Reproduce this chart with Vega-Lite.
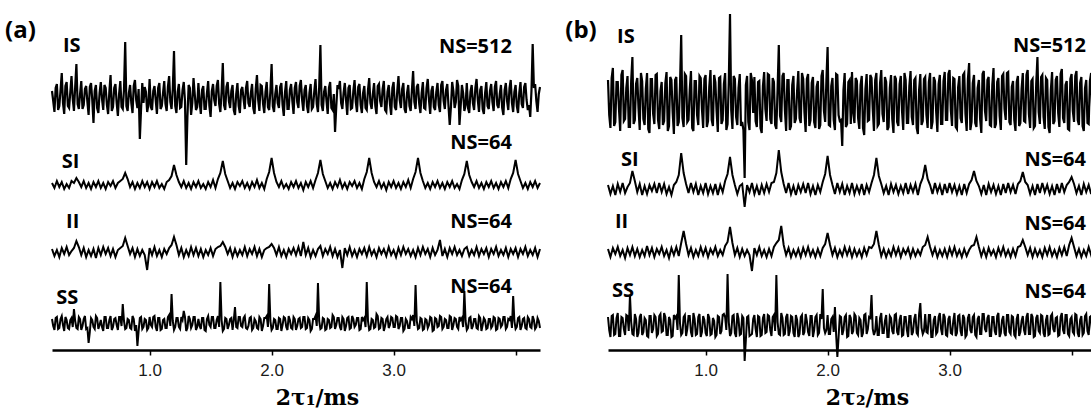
{
"$schema":"https://vega.github.io/schema/vega-lite/v6.json",
"padding":{"left":5,"top":0,"right":0,"bottom":0},
"background":"white",
"config":{"view":{"stroke":null},"axis":{"labelOverlap":false},"text":{"font":"Open Sans","fontWeight":"bold","fontSize":20,"color":"black","baseline":"middle"}},
"spacing":20,
"datasets":{
"tr":[
{"t":0.2,"a1":6,"a2":2,"a3":3,"a4":4,"b1":20,"b2":4,"b3":3,"b4":8},
{"t":0.22,"a1":-15,"a2":-3,"a3":-4,"a4":-7,"b1":-28,"b2":-5,"b3":-5,"b4":-12},
{"t":0.24,"a1":13,"a2":4,"a3":2,"a4":6,"b1":32,"b2":3,"b3":4,"b4":10},
{"t":0.26,"a1":-9,"a2":-2,"a3":-5,"a4":-5,"b1":-22,"b2":-6,"b3":-2,"b4":-9},
{"t":0.28,"a1":24,"a2":3,"a3":4,"a4":7,"b1":18,"b2":5,"b3":5,"b4":12},
{"t":0.3,"a1":-17,"a2":-4,"a3":-2,"a4":-8,"b1":-31,"b2":-3,"b3":-4,"b4":-11},
{"t":0.32,"a1":15,"a2":1,"a3":5,"a4":3,"b1":30,"b2":6,"b3":2,"b4":7},
{"t":0.34,"a1":-11,"a2":-3,"a3":-3,"a4":-6,"b1":-19,"b2":-4,"b3":-6,"b4":-10},
{"t":0.36,"a1":21,"a2":4,"a3":1,"a4":5,"b1":24,"b2":2,"b3":4,"b4":9},
{"t":0.38,"a1":-14,"a2":2,"a3":4,"a4":14,"b1":-27,"b2":6,"b3":-3,"b4":30},
{"t":0.4,"a1":33,"a2":7,"a3":11,"a4":-5,"b1":43,"b2":18,"b3":5,"b4":-9},
{"t":0.42,"a1":-12,"a2":3,"a3":5,"a4":6,"b1":-20,"b2":8,"b3":-4,"b4":11},
{"t":0.44,"a1":16,"a2":-2,"a3":-3,"a4":-7,"b1":22,"b2":-3,"b3":3,"b4":-12},
{"t":0.46,"a1":-8,"a2":4,"a3":4,"a4":4,"b1":-30,"b2":5,"b3":-5,"b4":8},
{"t":0.48,"a1":11,"a2":-3,"a3":-5,"a4":-6,"b1":19,"b2":-6,"b3":2,"b4":-10},
{"t":0.5,"a1":-18,"a2":2,"a3":2,"a4":-20,"b1":-25,"b2":3,"b3":-4,"b4":7},
{"t":0.52,"a1":14,"a2":-4,"a3":-4,"a4":5,"b1":27,"b2":-5,"b3":6,"b4":-11},
{"t":0.54,"a1":-26,"a2":3,"a3":3,"a4":-4,"b1":-33,"b2":4,"b3":-3,"b4":9},
{"t":0.56,"a1":12,"a2":-2,"a3":-6,"a4":7,"b1":21,"b2":-2,"b3":4,"b4":-8},
{"t":0.58,"a1":-16,"a2":4,"a3":4,"a4":-6,"b1":-24,"b2":5,"b3":-5,"b4":10},
{"t":0.6,"a1":15,"a2":-3,"a3":-3,"a4":3,"b1":26,"b2":-4,"b3":3,"b4":-11},
{"t":0.62,"a1":-13,"a2":2,"a3":5,"a4":-8,"b1":-29,"b2":6,"b3":-2,"b4":9},
{"t":0.64,"a1":9,"a2":-4,"a3":-2,"a4":6,"b1":18,"b2":-3,"b3":5,"b4":-7},
{"t":0.66,"a1":-17,"a2":3,"a3":4,"a4":-5,"b1":-21,"b2":5,"b3":-4,"b4":12},
{"t":0.68,"a1":22,"a2":-1,"a3":-4,"a4":7,"b1":28,"b2":-5,"b3":2,"b4":-10},
{"t":0.7,"a1":-10,"a2":4,"a3":3,"a4":-4,"b1":-26,"b2":2,"b3":-6,"b4":8},
{"t":0.72,"a1":13,"a2":-3,"a3":-5,"a4":5,"b1":20,"b2":-6,"b3":4,"b4":-12},
{"t":0.74,"a1":-19,"a2":2,"a3":2,"a4":-7,"b1":-34,"b2":4,"b3":-3,"b4":10},
{"t":0.76,"a1":16,"a2":4,"a3":4,"a4":6,"b1":23,"b2":7,"b3":5,"b4":9},
{"t":0.78,"a1":-12,"a2":6,"a3":6,"a4":19,"b1":-22,"b2":14,"b3":-4,"b4":50},
{"t":0.8,"a1":55,"a2":12,"a3":14,"a4":-6,"b1":65,"b2":36,"b3":9,"b4":-10},
{"t":0.82,"a1":-14,"a2":6,"a3":6,"a4":4,"b1":-27,"b2":16,"b3":21,"b4":8},
{"t":0.84,"a1":12,"a2":-2,"a3":-2,"a4":-5,"b1":24,"b2":5,"b3":8,"b4":-11},
{"t":0.86,"a1":-16,"a2":3,"a3":4,"a4":7,"b1":-20,"b2":-4,"b3":-3,"b4":9},
{"t":0.88,"a1":17,"a2":-4,"a3":-5,"a4":-8,"b1":29,"b2":6,"b3":4,"b4":-7},
{"t":0.9,"a1":-11,"a2":2,"a3":3,"a4":-23,"b1":-31,"b2":-3,"b3":-5,"b4":12},
{"t":0.92,"a1":-42,"a2":-3,"a3":-4,"a4":5,"b1":19,"b2":5,"b3":2,"b4":-10},
{"t":0.94,"a1":14,"a2":4,"a3":2,"a4":-6,"b1":-25,"b2":-6,"b3":-4,"b4":8},
{"t":0.96,"a1":10,"a2":-2,"a3":-3,"a4":4,"b1":22,"b2":3,"b3":5,"b4":-12},
{"t":0.98,"a1":-15,"a2":3,"a3":-18,"a4":-7,"b1":-28,"b2":-4,"b3":-3,"b4":9},
{"t":1,"a1":18,"a2":-4,"a3":4,"a4":6,"b1":25,"b2":6,"b3":4,"b4":-8},
{"t":1.02,"a1":-13,"a2":3,"a3":-3,"a4":-4,"b1":-21,"b2":-5,"b3":-5,"b4":11},
{"t":1.04,"a1":11,"a2":-2,"a3":5,"a4":7,"b1":30,"b2":3,"b3":3,"b4":-10},
{"t":1.06,"a1":-17,"a2":4,"a3":-4,"a4":-8,"b1":-26,"b2":-4,"b3":-2,"b4":7},
{"t":1.08,"a1":14,"a2":-3,"a3":2,"a4":5,"b1":18,"b2":5,"b3":5,"b4":-12},
{"t":1.1,"a1":-9,"a2":1,"a3":-5,"a4":-6,"b1":-32,"b2":-6,"b3":-4,"b4":9},
{"t":1.12,"a1":16,"a2":-4,"a3":3,"a4":4,"b1":23,"b2":4,"b3":2,"b4":-9},
{"t":1.14,"a1":-14,"a2":3,"a3":-2,"a4":-5,"b1":-20,"b2":-3,"b3":-3,"b4":10},
{"t":1.16,"a1":21,"a2":5,"a3":4,"a4":8,"b1":27,"b2":8,"b3":6,"b4":8},
{"t":1.18,"a1":-12,"a2":9,"a3":7,"a4":29,"b1":-24,"b2":15,"b3":10,"b4":51},
{"t":1.2,"a1":46,"a2":20,"a3":15,"a4":-7,"b1":86,"b2":32,"b3":25,"b4":-11},
{"t":1.22,"a1":-16,"a2":10,"a3":7,"a4":5,"b1":-29,"b2":14,"b3":9,"b4":9},
{"t":1.24,"a1":13,"a2":3,"a3":-3,"a4":-4,"b1":21,"b2":4,"b3":-3,"b4":-8},
{"t":1.26,"a1":-10,"a2":-2,"a3":4,"a4":6,"b1":-25,"b2":-5,"b3":4,"b4":12},
{"t":1.28,"a1":15,"a2":4,"a3":-5,"a4":12,"b1":26,"b2":3,"b3":-5,"b4":-10},
{"t":1.3,"a1":-68,"a2":-3,"a3":2,"a4":-8,"b1":-22,"b2":5,"b3":3,"b4":9},
{"t":1.32,"a1":12,"a2":2,"a3":-4,"a4":7,"b1":-78,"b2":-18,"b3":-4,"b4":-36},
{"t":1.34,"a1":-18,"a2":-4,"a3":5,"a4":-5,"b1":24,"b2":4,"b3":2,"b4":8},
{"t":1.36,"a1":19,"a2":3,"a3":-3,"a4":6,"b1":-30,"b2":-3,"b3":-3,"b4":-11},
{"t":1.38,"a1":-13,"a2":-2,"a3":4,"a4":-7,"b1":20,"b2":6,"b3":-19,"b4":-9},
{"t":1.4,"a1":14,"a2":4,"a3":-4,"a4":4,"b1":23,"b2":-5,"b3":4,"b4":10},
{"t":1.42,"a1":-17,"a2":-3,"a3":3,"a4":-6,"b1":-27,"b2":3,"b3":-3,"b4":-12},
{"t":1.44,"a1":11,"a2":1,"a3":-5,"a4":5,"b1":19,"b2":-6,"b3":5,"b4":8},
{"t":1.46,"a1":-12,"a2":-4,"a3":2,"a4":-8,"b1":-33,"b2":4,"b3":-4,"b4":-10},
{"t":1.48,"a1":16,"a2":3,"a3":-3,"a4":7,"b1":28,"b2":-4,"b3":2,"b4":11},
{"t":1.5,"a1":-20,"a2":-2,"a3":4,"a4":-4,"b1":-21,"b2":5,"b3":-5,"b4":-7},
{"t":1.52,"a1":13,"a2":5,"a3":-4,"a4":6,"b1":25,"b2":-3,"b3":3,"b4":9},
{"t":1.54,"a1":-9,"a2":-3,"a3":3,"a4":-5,"b1":-24,"b2":6,"b3":-4,"b4":-11},
{"t":1.56,"a1":17,"a2":6,"a3":5,"a4":7,"b1":18,"b2":7,"b3":5,"b4":10},
{"t":1.58,"a1":-15,"a2":12,"a3":6,"a4":41,"b1":-29,"b2":16,"b3":9,"b4":50},
{"t":1.6,"a1":34,"a2":24,"a3":10,"a4":-8,"b1":55,"b2":39,"b3":12,"b4":-9},
{"t":1.62,"a1":-13,"a2":11,"a3":5,"a4":5,"b1":-22,"b2":17,"b3":26,"b4":12},
{"t":1.64,"a1":15,"a2":4,"a3":-2,"a4":-6,"b1":27,"b2":5,"b3":7,"b4":-10},
{"t":1.66,"a1":-11,"a2":-3,"a3":4,"a4":4,"b1":-31,"b2":-4,"b3":-3,"b4":8},
{"t":1.68,"a1":12,"a2":2,"a3":-5,"a4":-7,"b1":20,"b2":6,"b3":4,"b4":-11},
{"t":1.7,"a1":-18,"a2":-4,"a3":3,"a4":16,"b1":-26,"b2":-5,"b3":-5,"b4":9},
{"t":1.72,"a1":14,"a2":3,"a3":-4,"a4":-5,"b1":24,"b2":3,"b3":2,"b4":-8},
{"t":1.74,"a1":-16,"a2":-1,"a3":2,"a4":6,"b1":-19,"b2":-6,"b3":-4,"b4":10},
{"t":1.76,"a1":10,"a2":4,"a3":-3,"a4":-4,"b1":29,"b2":4,"b3":3,"b4":-12},
{"t":1.78,"a1":-12,"a2":-3,"a3":5,"a4":7,"b1":-23,"b2":-3,"b3":-5,"b4":8},
{"t":1.8,"a1":16,"a2":2,"a3":-4,"a4":-6,"b1":21,"b2":5,"b3":4,"b4":-10},
{"t":1.82,"a1":-10,"a2":-4,"a3":3,"a4":5,"b1":-32,"b2":-4,"b3":-3,"b4":11},
{"t":1.84,"a1":13,"a2":3,"a3":-2,"a4":-7,"b1":26,"b2":6,"b3":5,"b4":-7},
{"t":1.86,"a1":-17,"a2":-2,"a3":5,"a4":4,"b1":-20,"b2":-5,"b3":-4,"b4":9},
{"t":1.88,"a1":22,"a2":5,"a3":-4,"a4":-5,"b1":23,"b2":3,"b3":2,"b4":-12},
{"t":1.9,"a1":-14,"a2":-3,"a3":3,"a4":6,"b1":-28,"b2":-6,"b3":-5,"b4":8},
{"t":1.92,"a1":11,"a2":2,"a3":-5,"a4":-8,"b1":19,"b2":4,"b3":3,"b4":-10},
{"t":1.94,"a1":-16,"a2":-4,"a3":2,"a4":5,"b1":-25,"b2":-3,"b3":-4,"b4":11},
{"t":1.96,"a1":15,"a2":6,"a3":4,"a4":7,"b1":30,"b2":7,"b3":4,"b4":36},
{"t":1.98,"a1":-13,"a2":13,"a3":5,"a4":39,"b1":-22,"b2":15,"b3":8,"b4":-8},
{"t":2,"a1":33,"a2":27,"a3":8,"a4":-7,"b1":53,"b2":33,"b3":19,"b4":10},
{"t":2.02,"a1":-15,"a2":12,"a3":4,"a4":4,"b1":-26,"b2":14,"b3":7,"b4":-9},
{"t":2.04,"a1":12,"a2":3,"a3":-3,"a4":-6,"b1":22,"b2":4,"b3":-3,"b4":8},
{"t":2.06,"a1":-11,"a2":-2,"a3":5,"a4":5,"b1":-30,"b2":-5,"b3":4,"b4":18},
{"t":2.08,"a1":14,"a2":4,"a3":-4,"a4":-8,"b1":25,"b2":6,"b3":-5,"b4":-32},
{"t":2.1,"a1":-19,"a2":-3,"a3":2,"a4":6,"b1":-21,"b2":-3,"b3":2,"b4":9},
{"t":2.12,"a1":16,"a2":1,"a3":-5,"a4":-4,"b1":-46,"b2":5,"b3":-4,"b4":-10},
{"t":2.14,"a1":-12,"a2":-4,"a3":3,"a4":7,"b1":27,"b2":-6,"b3":5,"b4":8},
{"t":2.16,"a1":13,"a2":3,"a3":-2,"a4":-5,"b1":-24,"b2":3,"b3":-3,"b4":-12},
{"t":2.18,"a1":-17,"a2":-2,"a3":4,"a4":6,"b1":20,"b2":-4,"b3":4,"b4":10},
{"t":2.2,"a1":15,"a2":4,"a3":-3,"a4":-7,"b1":28,"b2":6,"b3":-5,"b4":-9},
{"t":2.22,"a1":-11,"a2":-3,"a3":5,"a4":4,"b1":-23,"b2":-5,"b3":3,"b4":11},
{"t":2.24,"a1":17,"a2":2,"a3":-4,"a4":-5,"b1":19,"b2":3,"b3":-4,"b4":-8},
{"t":2.26,"a1":-14,"a2":-5,"a3":10,"a4":6,"b1":-29,"b2":-4,"b3":2,"b4":7},
{"t":2.28,"a1":12,"a2":3,"a3":-3,"a4":-6,"b1":24,"b2":5,"b3":-5,"b4":-12},
{"t":2.3,"a1":-16,"a2":-2,"a3":4,"a4":5,"b1":-35,"b2":-6,"b3":4,"b4":10},
{"t":2.32,"a1":13,"a2":4,"a3":-5,"a4":-8,"b1":26,"b2":4,"b3":-3,"b4":-9},
{"t":2.34,"a1":-10,"a2":-3,"a3":2,"a4":4,"b1":-20,"b2":-3,"b3":5,"b4":8},
{"t":2.36,"a1":18,"a2":5,"a3":-4,"a4":7,"b1":22,"b2":6,"b3":4,"b4":30},
{"t":2.38,"a1":-15,"a2":12,"a3":3,"a4":40,"b1":-31,"b2":14,"b3":8,"b4":-10},
{"t":2.4,"a1":52,"a2":25,"a3":6,"a4":-6,"b1":27,"b2":31,"b3":21,"b4":9},
{"t":2.42,"a1":-14,"a2":11,"a3":-4,"a4":5,"b1":-24,"b2":13,"b3":7,"b4":-10},
{"t":2.44,"a1":11,"a2":4,"a3":3,"a4":-7,"b1":30,"b2":5,"b3":-4,"b4":12},
{"t":2.46,"a1":-17,"a2":-3,"a3":-2,"a4":4,"b1":-22,"b2":-4,"b3":3,"b4":-8},
{"t":2.48,"a1":15,"a2":2,"a3":5,"a4":-5,"b1":18,"b2":3,"b3":-5,"b4":10},
{"t":2.5,"a1":-13,"a2":-4,"a3":-4,"a4":8,"b1":-27,"b2":-6,"b3":2,"b4":-12},
{"t":2.52,"a1":-35,"a2":3,"a3":3,"a4":-6,"b1":25,"b2":5,"b3":-4,"b4":7},
{"t":2.54,"a1":12,"a2":-2,"a3":-5,"a4":5,"b1":-33,"b2":-3,"b3":5,"b4":-9},
{"t":2.56,"a1":16,"a2":5,"a3":2,"a4":-4,"b1":21,"b2":4,"b3":-3,"b4":11},
{"t":2.58,"a1":-12,"a2":-3,"a3":-16,"a4":6,"b1":-26,"b2":-5,"b3":4,"b4":-10},
{"t":2.6,"a1":14,"a2":2,"a3":4,"a4":-8,"b1":24,"b2":3,"b3":-5,"b4":10},
{"t":2.62,"a1":-18,"a2":-4,"a3":-3,"a4":5,"b1":-30,"b2":-4,"b3":3,"b4":-10},
{"t":2.64,"a1":12,"a2":3,"a3":5,"a4":-6,"b1":20,"b2":6,"b3":-2,"b4":8},
{"t":2.66,"a1":-11,"a2":-1,"a3":-4,"a4":7,"b1":-23,"b2":-5,"b3":4,"b4":-12},
{"t":2.68,"a1":17,"a2":4,"a3":2,"a4":-4,"b1":29,"b2":4,"b3":-5,"b4":9},
{"t":2.7,"a1":-15,"a2":-3,"a3":-5,"a4":5,"b1":-25,"b2":-3,"b3":3,"b4":-7},
{"t":2.72,"a1":13,"a2":2,"a3":3,"a4":-7,"b1":22,"b2":5,"b3":-4,"b4":11},
{"t":2.74,"a1":-16,"a2":-4,"a3":-2,"a4":6,"b1":-34,"b2":-6,"b3":2,"b4":-10},
{"t":2.76,"a1":11,"a2":6,"a3":4,"a4":5,"b1":26,"b2":5,"b3":-3,"b4":22},
{"t":2.78,"a1":-13,"a2":13,"a3":-4,"a4":41,"b1":-21,"b2":11,"b3":5,"b4":-9},
{"t":2.8,"a1":19,"a2":27,"a3":5,"a4":-7,"b1":23,"b2":24,"b3":7,"b4":11},
{"t":2.82,"a1":-12,"a2":12,"a3":-3,"a4":4,"b1":-28,"b2":10,"b3":15,"b4":-8},
{"t":2.84,"a1":14,"a2":3,"a3":2,"a4":-5,"b1":27,"b2":4,"b3":5,"b4":10},
{"t":2.86,"a1":-17,"a2":-2,"a3":-5,"a4":9,"b1":-22,"b2":-5,"b3":-3,"b4":-12},
{"t":2.88,"a1":13,"a2":4,"a3":4,"a4":-6,"b1":19,"b2":6,"b3":4,"b4":9},
{"t":2.9,"a1":-10,"a2":-3,"a3":-2,"a4":5,"b1":-32,"b2":-3,"b3":-5,"b4":-7},
{"t":2.92,"a1":16,"a2":2,"a3":3,"a4":-8,"b1":25,"b2":4,"b3":2,"b4":12},
{"t":2.94,"a1":-15,"a2":-5,"a3":-4,"a4":4,"b1":-24,"b2":-6,"b3":-4,"b4":-10},
{"t":2.96,"a1":12,"a2":3,"a3":5,"a4":-5,"b1":28,"b2":5,"b3":3,"b4":8},
{"t":2.98,"a1":-18,"a2":-2,"a3":-3,"a4":6,"b1":-20,"b2":-4,"b3":-5,"b4":-11},
{"t":3,"a1":15,"a2":4,"a3":2,"a4":-4,"b1":30,"b2":6,"b3":4,"b4":9},
{"t":3.02,"a1":-13,"a2":-3,"a3":-5,"a4":7,"b1":-26,"b2":-3,"b3":-3,"b4":-9},
{"t":3.04,"a1":21,"a2":2,"a3":4,"a4":-6,"b1":21,"b2":4,"b3":5,"b4":12},
{"t":3.06,"a1":-11,"a2":-4,"a3":-3,"a4":5,"b1":-29,"b2":-5,"b3":-4,"b4":-8},
{"t":3.08,"a1":14,"a2":3,"a3":5,"a4":-8,"b1":24,"b2":3,"b3":2,"b4":10},
{"t":3.1,"a1":-16,"a2":-2,"a3":-2,"a4":4,"b1":-23,"b2":-6,"b3":-5,"b4":-11},
{"t":3.12,"a1":12,"a2":5,"a3":3,"a4":-5,"b1":27,"b2":5,"b3":3,"b4":7},
{"t":3.14,"a1":-14,"a2":-3,"a3":-4,"a4":6,"b1":-31,"b2":-4,"b3":-4,"b4":-10},
{"t":3.16,"a1":26,"a2":6,"a3":2,"a4":8,"b1":37,"b2":5,"b3":2,"b4":11},
{"t":3.18,"a1":-12,"a2":13,"a3":-5,"a4":38,"b1":-22,"b2":9,"b3":6,"b4":-8},
{"t":3.2,"a1":13,"a2":27,"a3":4,"a4":-6,"b1":25,"b2":18,"b3":7,"b4":10},
{"t":3.22,"a1":-16,"a2":12,"a3":-3,"a4":5,"b1":-27,"b2":8,"b3":15,"b4":-12},
{"t":3.24,"a1":15,"a2":4,"a3":5,"a4":-7,"b1":20,"b2":3,"b3":5,"b4":9},
{"t":3.26,"a1":-12,"a2":-3,"a3":-2,"a4":4,"b1":-33,"b2":-5,"b3":-4,"b4":-9},
{"t":3.28,"a1":18,"a2":2,"a3":3,"a4":-5,"b1":29,"b2":4,"b3":3,"b4":11},
{"t":3.3,"a1":-17,"a2":-4,"a3":-5,"a4":6,"b1":-21,"b2":-6,"b3":-5,"b4":-7},
{"t":3.32,"a1":11,"a2":3,"a3":4,"a4":-8,"b1":23,"b2":5,"b3":4,"b4":10},
{"t":3.34,"a1":-13,"a2":-2,"a3":-3,"a4":5,"b1":-26,"b2":-3,"b3":-3,"b4":-11},
{"t":3.36,"a1":14,"a2":4,"a3":2,"a4":-4,"b1":32,"b2":4,"b3":2,"b4":8},
{"t":3.38,"a1":-15,"a2":-3,"a3":12,"a4":7,"b1":-24,"b2":-5,"b3":-5,"b4":-10},
{"t":3.4,"a1":16,"a2":2,"a3":-4,"a4":-6,"b1":22,"b2":3,"b3":4,"b4":12},
{"t":3.42,"a1":-12,"a2":-4,"a3":3,"a4":4,"b1":-30,"b2":-6,"b3":-3,"b4":-8},
{"t":3.44,"a1":13,"a2":3,"a3":-5,"a4":-5,"b1":26,"b2":5,"b3":5,"b4":9},
{"t":3.46,"a1":-28,"a2":-2,"a3":4,"a4":7,"b1":-20,"b2":-4,"b3":-4,"b4":-11},
{"t":3.48,"a1":15,"a2":4,"a3":-2,"a4":-7,"b1":28,"b2":6,"b3":2,"b4":10},
{"t":3.5,"a1":-11,"a2":-3,"a3":5,"a4":5,"b1":-25,"b2":-3,"b3":-5,"b4":-9},
{"t":3.52,"a1":17,"a2":1,"a3":-3,"a4":-4,"b1":19,"b2":4,"b3":3,"b4":8},
{"t":3.54,"a1":-28,"a2":-4,"a3":2,"a4":6,"b1":-31,"b2":-5,"b3":-4,"b4":-12},
{"t":3.56,"a1":12,"a2":5,"a3":-4,"a4":5,"b1":24,"b2":5,"b3":5,"b4":11},
{"t":3.58,"a1":-14,"a2":11,"a3":3,"a4":32,"b1":-23,"b2":8,"b3":6,"b4":-7},
{"t":3.6,"a1":14,"a2":24,"a3":5,"a4":-7,"b1":27,"b2":17,"b3":12,"b4":9},
{"t":3.62,"a1":-16,"a2":10,"a3":-4,"a4":5,"b1":-22,"b2":7,"b3":5,"b4":-10},
{"t":3.64,"a1":12,"a2":3,"a3":2,"a4":-6,"b1":30,"b2":4,"b3":-3,"b4":12},
{"t":3.66,"a1":-13,"a2":-2,"a3":-3,"a4":4,"b1":-28,"b2":-5,"b3":4,"b4":-9},
{"t":3.68,"a1":18,"a2":4,"a3":5,"a4":-5,"b1":21,"b2":3,"b3":-5,"b4":8},
{"t":3.7,"a1":-15,"a2":-3,"a3":-4,"a4":7,"b1":-26,"b2":-6,"b3":3,"b4":-11},
{"t":3.72,"a1":11,"a2":2,"a3":3,"a4":-8,"b1":43,"b2":5,"b3":-4,"b4":10},
{"t":3.74,"a1":-17,"a2":-4,"a3":-2,"a4":5,"b1":-24,"b2":-4,"b3":2,"b4":-8},
{"t":3.76,"a1":15,"a2":3,"a3":4,"a4":-6,"b1":25,"b2":6,"b3":-5,"b4":9},
{"t":3.78,"a1":-12,"a2":-2,"a3":-5,"a4":4,"b1":-29,"b2":-3,"b3":4,"b4":-12},
{"t":3.8,"a1":13,"a2":4,"a3":3,"a4":-5,"b1":20,"b2":4,"b3":-3,"b4":10},
{"t":3.82,"a1":-14,"a2":-3,"a3":-2,"a4":6,"b1":-33,"b2":-5,"b3":5,"b4":-9},
{"t":3.84,"a1":16,"a2":2,"a3":5,"a4":-7,"b1":28,"b2":3,"b3":-4,"b4":11},
{"t":3.86,"a1":-11,"a2":-4,"a3":-4,"a4":5,"b1":-21,"b2":-6,"b3":2,"b4":-7},
{"t":3.88,"a1":12,"a2":3,"a3":2,"a4":-4,"b1":24,"b2":5,"b3":-5,"b4":8},
{"t":3.9,"a1":-18,"a2":-2,"a3":-3,"a4":6,"b1":-27,"b2":-4,"b3":4,"b4":-10},
{"t":3.92,"a1":14,"a2":4,"a3":4,"a4":-6,"b1":31,"b2":6,"b3":-3,"b4":12},
{"t":3.94,"a1":-13,"a2":-3,"a3":-5,"a4":4,"b1":-23,"b2":-3,"b3":5,"b4":-9},
{"t":3.96,"a1":17,"a2":6,"a3":3,"a4":7,"b1":19,"b2":4,"b3":-4,"b4":10},
{"t":3.98,"a1":-15,"a2":12,"a3":-2,"a4":27,"b1":-30,"b2":7,"b3":7,"b4":-11},
{"t":4,"a1":12,"a2":25,"a3":4,"a4":-6,"b1":26,"b2":12,"b3":14,"b4":8},
{"t":4.02,"a1":-16,"a2":11,"a3":-5,"a4":5,"b1":-22,"b2":5,"b3":5,"b4":-9},
{"t":4.04,"a1":15,"a2":4,"a3":3,"a4":-7,"b1":29,"b2":-4,"b3":-4,"b4":10},
{"t":4.06,"a1":-11,"a2":-3,"a3":-2,"a4":4,"b1":-25,"b2":3,"b3":3,"b4":-12},
{"t":4.08,"a1":14,"a2":2,"a3":5,"a4":-5,"b1":23,"b2":-6,"b3":-5,"b4":9},
{"t":4.1,"a1":-13,"a2":-4,"a3":-4,"a4":6,"b1":-31,"b2":5,"b3":2,"b4":-8},
{"t":4.12,"a1":-20,"a2":3,"a3":2,"a4":-4,"b1":20,"b2":-3,"b3":-4,"b4":11},
{"t":4.14,"a1":53,"a2":-2,"a3":-3,"a4":7,"b1":-24,"b2":4,"b3":5,"b4":-10},
{"t":4.16,"a1":13,"a2":4,"a3":4,"a4":-6,"b1":27,"b2":-5,"b3":-3,"b4":9},
{"t":4.18,"a1":-15,"a2":-3,"a3":-5,"a4":5,"b1":-21,"b2":6,"b3":4,"b4":-9},
{"t":4.2,"a1":10,"a2":2,"a3":3,"a4":-5,"b1":24,"b2":-4,"b3":-5,"b4":-9},
{"t":0.21,"a1":-4,"a4":-3,"b1":-15,"b4":-5},{"t":0.23,"a1":9,"a4":5,"b1":22,"b4":9},{"t":0.25,"a1":-13,"a4":-6,"b1":-26,"b4":-10},{"t":0.27,"a1":7,"a4":4,"b1":18,"b4":7},{"t":0.29,"a1":-6,"a4":-2,"b1":-9,"b4":-11},
{"t":0.31,"a1":11,"a4":6,"b1":25,"b4":8},{"t":0.33,"a1":-9,"a4":-5,"b1":-21,"b4":-4},{"t":0.35,"a1":5,"a4":3,"b1":12,"b4":10},{"t":0.37,"a1":-2,"a4":-4,"b1":-27,"b4":-6},{"t":0.39,"a1":10,"a4":2,"b1":19,"b4":3},
{"t":0.41,"a1":-7,"a4":-6,"b1":-24,"b4":-10},{"t":0.43,"a1":3,"a4":4,"b1":16,"b4":6},{"t":0.45,"a1":-12,"a4":-3,"b1":-8,"b4":-8},{"t":0.47,"a1":8,"a4":7,"b1":27,"b4":11},{"t":0.49,"a1":-5,"a4":-5,"b1":-19,"b4":-7},
{"t":0.51,"a1":10,"a4":-9,"b1":11,"b4":5},{"t":0.53,"a1":-3,"a4":3,"b1":-29,"b4":-12},{"t":0.55,"a1":6,"a4":-6,"b1":21,"b4":9},{"t":0.57,"a1":-11,"a4":5,"b1":-14,"b4":-4},{"t":0.59,"a1":4,"a4":-2,"b1":25,"b4":8},
{"t":0.61,"a1":-2,"a4":-4,"b1":-20,"b4":-9},{"t":0.63,"a1":12,"a4":6,"b1":9,"b4":11},{"t":0.65,"a1":-8,"a4":-5,"b1":-25,"b4":-6},{"t":0.67,"a1":5,"a4":3,"b1":17,"b4":8},{"t":0.69,"a1":-14,"a4":-7,"b1":-31,"b4":-10},
{"t":0.71,"a1":9,"a4":4,"b1":23,"b4":5},{"t":0.73,"a1":-6,"a4":-2,"b1":-12,"b4":-11},{"t":0.75,"a1":3,"a4":6,"b1":20,"b4":7},{"t":0.77,"a1":-10,"a4":-3,"b1":-26,"b4":-5},{"t":0.79,"a1":7,"a4":2,"b1":14,"b4":2},
{"t":0.81,"a1":-9,"a4":-5,"b1":-18,"b4":-8},{"t":0.83,"a1":4,"a4":3,"b1":26,"b4":10},{"t":0.85,"a1":-6,"a4":-6,"b1":-22,"b4":-4},{"t":0.87,"a1":11,"a4":4,"b1":10,"b4":9},{"t":0.89,"a1":-3,"a4":-2,"b1":-28,"b4":-12},
{"t":0.91,"a1":8,"a4":-8,"b1":19,"b4":6},{"t":0.93,"a1":-12,"a4":6,"b1":-15,"b4":-9},{"t":0.95,"a1":-6,"a4":-4,"b1":24,"b4":11},{"t":0.97,"a1":5,"a4":3,"b1":-9,"b4":-7},{"t":0.99,"a1":-8,"a4":-5,"b1":21,"b4":5},
{"t":1.01,"a1":-10,"a4":-2,"b1":-27,"b4":-11},{"t":1.03,"a1":6,"a4":6,"b1":13,"b4":7},{"t":1.05,"a1":-3,"a4":-4,"b1":-20,"b4":-9},{"t":1.07,"a1":9,"a4":5,"b1":25,"b4":4},{"t":1.09,"a1":-12,"a4":-7,"b1":-11,"b4":-10},
{"t":1.11,"a1":4,"a4":3,"b1":22,"b4":8},{"t":1.13,"a1":-7,"a4":-5,"b1":-24,"b4":-6},{"t":1.15,"a1":10,"a4":6,"b1":16,"b4":11},{"t":1.17,"a1":-5,"a4":-3,"b1":-30,"b4":-5},{"t":1.19,"a1":8,"a4":2,"b1":18,"b4":3},
{"t":1.21,"a1":-9,"a4":-4,"b1":-10,"b4":-8},{"t":1.23,"a1":5,"a4":5,"b1":24,"b4":10},{"t":1.25,"a1":-11,"a4":-6,"b1":-17,"b4":-12},{"t":1.27,"a1":7,"a4":3,"b1":12,"b4":6},{"t":1.29,"a1":-4,"a4":6,"b1":-26,"b4":-9},
{"t":1.31,"a1":-20,"a4":-5,"b1":-30,"b4":7},{"t":1.33,"a1":9,"a4":4,"b1":15,"b4":-15},{"t":1.35,"a1":-6,"a4":-2,"b1":-22,"b4":9},{"t":1.37,"a1":3,"a4":6,"b1":27,"b4":-10},{"t":1.39,"a1":-10,"a4":-4,"b1":-13,"b4":6},
{"t":1.41,"a1":-5,"a4":-3,"b1":-21,"b4":-4},{"t":1.43,"a1":7,"a4":5,"b1":18,"b4":9},{"t":1.45,"a1":-12,"a4":-7,"b1":-28,"b4":-11},{"t":1.47,"a1":4,"a4":4,"b1":14,"b4":7},{"t":1.49,"a1":-9,"a4":-2,"b1":-9,"b4":-8},
{"t":1.51,"a1":6,"a4":6,"b1":26,"b4":10},{"t":1.53,"a1":-3,"a4":-5,"b1":-19,"b4":-5},{"t":1.55,"a1":11,"a4":3,"b1":22,"b4":8},{"t":1.57,"a1":-7,"a4":-4,"b1":-25,"b4":-6},{"t":1.59,"a1":5,"a4":3,"b1":11,"b4":3},
{"t":1.61,"a1":-8,"a4":-6,"b1":-16,"b4":-10},{"t":1.63,"a1":10,"a4":4,"b1":24,"b4":7},{"t":1.65,"a1":-4,"a4":-2,"b1":-10,"b4":-9},{"t":1.67,"a1":6,"a4":5,"b1":20,"b4":11},{"t":1.69,"a1":-13,"a4":3,"b1":-30,"b4":-6},
{"t":1.71,"a1":3,"a4":-4,"b1":15,"b4":8},{"t":1.73,"a1":-9,"a4":6,"b1":-23,"b4":-12},{"t":1.75,"a1":7,"a4":-3,"b1":9,"b4":5},{"t":1.77,"a1":-2,"a4":5,"b1":-18,"b4":-9},{"t":1.79,"a1":9,"a4":-5,"b1":27,"b4":10},
{"t":1.81,"a1":-6,"a4":-3,"b1":-12,"b4":-7},{"t":1.83,"a1":4,"a4":6,"b1":21,"b4":4},{"t":1.85,"a1":-11,"a4":-5,"b1":-26,"b4":-11},{"t":1.87,"a1":8,"a4":2,"b1":17,"b4":9},{"t":1.89,"a1":-3,"a4":-6,"b1":-22,"b4":-5},
{"t":1.91,"a1":12,"a4":4,"b1":13,"b4":10},{"t":1.93,"a1":-7,"a4":-3,"b1":-29,"b4":-8},{"t":1.95,"a1":5,"a4":5,"b1":24,"b4":6},{"t":1.97,"a1":-10,"a4":-4,"b1":-11,"b4":-3},{"t":1.99,"a1":6,"a4":2,"b1":19,"b4":-5},
{"t":2.01,"a1":-9,"a4":-5,"b1":-25,"b4":-9},{"t":2.03,"a1":3,"a4":3,"b1":14,"b4":6},{"t":2.05,"a1":-6,"a4":-6,"b1":-20,"b4":-7},{"t":2.07,"a1":10,"a4":4,"b1":26,"b4":-10},{"t":2.09,"a1":-8,"a4":-2,"b1":-15,"b4":-12},
{"t":2.11,"a1":5,"a4":5,"b1":-20,"b4":8},{"t":2.13,"a1":-12,"a4":-7,"b1":10,"b4":-5},{"t":2.15,"a1":7,"a4":3,"b1":-27,"b4":10},{"t":2.17,"a1":-4,"a4":-6,"b1":18,"b4":-11},{"t":2.19,"a1":9,"a4":4,"b1":-24,"b4":7},
{"t":2.21,"a1":-5,"a4":-3,"b1":-13,"b4":-6},{"t":2.23,"a1":11,"a4":5,"b1":22,"b4":9},{"t":2.25,"a1":-3,"a4":-4,"b1":-18,"b4":-10},{"t":2.27,"a1":7,"a4":6,"b1":15,"b4":5},{"t":2.29,"a1":-9,"a4":-5,"b1":-28,"b4":-8},
{"t":2.31,"a1":4,"a4":3,"b1":11,"b4":11},{"t":2.33,"a1":-12,"a4":-6,"b1":-21,"b4":-4},{"t":2.35,"a1":6,"a4":4,"b1":25,"b4":7},{"t":2.37,"a1":-7,"a4":-3,"b1":-9,"b4":-4},{"t":2.39,"a1":10,"a4":2,"b1":20,"b4":-6},
{"t":2.41,"a1":-8,"a4":-5,"b1":-26,"b4":-10},{"t":2.43,"a1":5,"a4":4,"b1":17,"b4":7},{"t":2.45,"a1":-4,"a4":-6,"b1":-14,"b4":-8},{"t":2.47,"a1":9,"a4":3,"b1":23,"b4":4},{"t":2.49,"a1":-11,"a4":-4,"b1":-30,"b4":-12},
{"t":2.51,"a1":3,"a4":6,"b1":12,"b4":9},{"t":2.53,"a1":-10,"a4":-2,"b1":-19,"b4":-6},{"t":2.55,"a1":8,"a4":5,"b1":24,"b4":10},{"t":2.57,"a1":-6,"a4":-7,"b1":-22,"b4":-7},{"t":2.59,"a1":4,"a4":4,"b1":16,"b4":5},
{"t":2.61,"a1":-3,"a4":-3,"b1":-11,"b4":-11},{"t":2.63,"a1":9,"a4":6,"b1":27,"b4":8},{"t":2.65,"a1":-12,"a4":-5,"b1":-23,"b4":-5},{"t":2.67,"a1":6,"a4":4,"b1":14,"b4":9},{"t":2.69,"a1":-5,"a4":-2,"b1":-17,"b4":-10},
{"t":2.71,"a1":10,"a4":5,"b1":20,"b4":6},{"t":2.73,"a1":-8,"a4":-6,"b1":-28,"b4":-8},{"t":2.75,"a1":4,"a4":3,"b1":10,"b4":11},{"t":2.77,"a1":-11,"a4":-4,"b1":-25,"b4":-3},{"t":2.79,"a1":7,"a4":2,"b1":21,"b4":-6},
{"t":2.81,"a1":-6,"a4":-6,"b1":-15,"b4":-7},{"t":2.83,"a1":3,"a4":3,"b1":18,"b4":10},{"t":2.85,"a1":-9,"a4":-4,"b1":-29,"b4":-12},{"t":2.87,"a1":11,"a4":7,"b1":23,"b4":5},{"t":2.89,"a1":-4,"a4":-5,"b1":-12,"b4":-9},
{"t":2.91,"a1":8,"a4":4,"b1":16,"b4":8},{"t":2.93,"a1":-13,"a4":-3,"b1":-24,"b4":-4},{"t":2.95,"a1":5,"a4":6,"b1":19,"b4":11},{"t":2.97,"a1":-7,"a4":-2,"b1":-20,"b4":-10},{"t":2.99,"a1":9,"a4":5,"b1":26,"b4":6},
{"t":3.01,"a1":-10,"a4":-4,"b1":-10,"b4":-8},{"t":3.03,"a1":6,"a4":6,"b1":22,"b4":4},{"t":3.05,"a1":-3,"a4":-3,"b1":-27,"b4":-11},{"t":3.07,"a1":8,"a4":5,"b1":13,"b4":9},{"t":3.09,"a1":-12,"a4":-6,"b1":-18,"b4":-6},
{"t":3.11,"a1":4,"a4":2,"b1":25,"b4":10},{"t":3.13,"a1":-9,"a4":-5,"b1":-14,"b4":-12},{"t":3.15,"a1":7,"a4":4,"b1":21,"b4":7},{"t":3.17,"a1":-5,"a4":-3,"b1":-30,"b4":-5},{"t":3.19,"a1":10,"a4":2,"b1":17,"b4":8},
{"t":3.21,"a1":-7,"a4":-5,"b1":-23,"b4":-10},{"t":3.23,"a1":4,"a4":4,"b1":12,"b4":6},{"t":3.25,"a1":-11,"a4":-6,"b1":-19,"b4":-9},{"t":3.27,"a1":9,"a4":3,"b1":26,"b4":11},{"t":3.29,"a1":-3,"a4":-2,"b1":-11,"b4":-4},
{"t":3.31,"a1":6,"a4":5,"b1":20,"b4":7},{"t":3.33,"a1":-10,"a4":-7,"b1":-25,"b4":-11},{"t":3.35,"a1":5,"a4":4,"b1":15,"b4":8},{"t":3.37,"a1":-8,"a4":-3,"b1":-28,"b4":-6},{"t":3.39,"a1":12,"a4":6,"b1":18,"b4":9},
{"t":3.41,"a1":-4,"a4":-4,"b1":-16,"b4":-12},{"t":3.43,"a1":7,"a4":3,"b1":24,"b4":5},{"t":3.45,"a1":-9,"a4":-5,"b1":-9,"b4":-8},{"t":3.47,"a1":-10,"a4":6,"b1":27,"b4":10},{"t":3.49,"a1":6,"a4":-2,"b1":-22,"b4":-7},
{"t":3.51,"a1":-5,"a4":4,"b1":13,"b4":9},{"t":3.53,"a1":11,"a4":-6,"b1":-20,"b4":-10},{"t":3.55,"a1":-9,"a4":3,"b1":18,"b4":6},{"t":3.57,"a1":4,"a4":-4,"b1":-26,"b4":-11},{"t":3.59,"a1":-8,"a4":2,"b1":11,"b4":4},
{"t":3.61,"a1":-11,"a4":-5,"b1":-21,"b4":-5},{"t":3.63,"a1":5,"a4":6,"b1":25,"b4":8},{"t":3.65,"a1":-6,"a4":-3,"b1":-14,"b4":-9},{"t":3.67,"a1":9,"a4":4,"b1":19,"b4":11},{"t":3.69,"a1":-3,"a4":-6,"b1":-28,"b4":-12},
{"t":3.71,"a1":7,"a4":5,"b1":16,"b4":7},{"t":3.73,"a1":-12,"a4":-2,"b1":-12,"b4":-6},{"t":3.75,"a1":4,"a4":3,"b1":23,"b4":10},{"t":3.77,"a1":-9,"a4":-5,"b1":-17,"b4":-8},{"t":3.79,"a1":6,"a4":4,"b1":22,"b4":5},
{"t":3.81,"a1":-5,"a4":-3,"b1":-27,"b4":-10},{"t":3.83,"a1":10,"a4":5,"b1":10,"b4":9},{"t":3.85,"a1":-8,"a4":-6,"b1":-24,"b4":-4},{"t":3.87,"a1":3,"a4":4,"b1":20,"b4":7},{"t":3.89,"a1":-11,"a4":-2,"b1":-13,"b4":-11},
{"t":3.91,"a1":7,"a4":6,"b1":26,"b4":8},{"t":3.93,"a1":-4,"a4":-4,"b1":-18,"b4":-5},{"t":3.95,"a1":9,"a4":3,"b1":15,"b4":10},{"t":3.97,"a1":-6,"a4":-5,"b1":-29,"b4":-9},{"t":3.99,"a1":5,"a4":2,"b1":21,"b4":6},
{"t":4.01,"a1":-9,"a4":-4,"b1":-11,"b4":-7},{"t":4.03,"a1":4,"a4":6,"b1":24,"b4":11},{"t":4.05,"a1":-7,"a4":-3,"b1":-20,"b4":-8},{"t":4.07,"a1":10,"a4":5,"b1":17,"b4":5},{"t":4.09,"a1":-3,"a4":-6,"b1":-26,"b4":-10},
{"t":4.11,"a1":-8,"a4":4,"b1":12,"b4":9},{"t":4.13,"a1":6,"a4":-5,"b1":-23,"b4":-6},{"t":4.15,"a1":9,"a4":3,"b1":19,"b4":8},{"t":4.17,"a1":-4,"a4":-4,"b1":-15,"b4":-12},{"t":4.19,"a1":3,"a4":2,"b1":22,"b4":7}
],
"lab":[
{"k":"a1","name":"IS","nt":0.29,"nv":51,"ns":"NS=512","st":3.97,"sv":50,"pl":"(a)","pt":-0.185,"pv":66},
{"k":"a2","name":"SI","nt":0.28,"nv":23,"ns":"NS=64","st":3.97,"sv":42},
{"k":"a3","name":"II","nt":0.315,"nv":30,"ns":"NS=64","st":3.97,"sv":30},
{"k":"a4","name":"SS","nt":0.235,"nv":25,"ns":"NS=64","st":3.97,"sv":36},
{"k":"b1","name":"IS","nt":0.274,"nv":63,"ns":"NS=512","st":4.118,"sv":54,"pl":"(b)","pt":-0.15,"pv":69},
{"k":"b2","name":"SI","nt":0.307,"nv":29,"ns":"NS=64","st":4.118,"sv":29},
{"k":"b3","name":"II","nt":0.257,"nv":30,"ns":"NS=64","st":4.118,"sv":28},
{"k":"b4","name":"SS","nt":0.233,"nv":34,"ns":"NS=64","st":4.118,"sv":33}
]
},
"hconcat":[
{
"width":488,"height":350,
"layer":[
{"data":{"name":"tr"},"mark":{"type":"line","color":"black","strokeWidth":2.2},"encoding":{"x":{"field":"t","type":"quantitative","scale":{"domain":[0.2,4.2],"nice":false,"zero":false},"axis":{"orient":"bottom","values":[1,2,3,4],"labelExpr":"datum.value<3.5?format(datum.value,'.1f'):''","labelOverlap":false,"labelFlush":false,"tickSize":5,"tickColor":"black","tickWidth":1.5,"domainColor":"black","domainWidth":2.5,"labelFont":"Liberation Sans","labelFontSize":17,"labelColor":"#1a1a1a","labelPadding":7,"title":"2τ₁/ms","titleFont":"DejaVu Serif","titleFontWeight":"bold","titleFontSize":22,"titleColor":"black","titleX":265,"titleY":54,"titleBaseline":"alphabetic","titleAlign":"center","grid":false}},"y":{"field":"a1","type":"quantitative","scale":{"domain":[-253,97],"nice":false,"zero":false},"axis":null}}},
{"data":{"name":"tr"},"transform":[{"filter":"isValid(datum.a2)"}],"mark":{"type":"line","color":"black","strokeWidth":2},"encoding":{"x":{"field":"t","type":"quantitative"},"y":{"field":"a2","type":"quantitative","scale":{"domain":[-165,185],"nice":false,"zero":false},"axis":null}}},
{"data":{"name":"tr"},"transform":[{"filter":"isValid(datum.a3)"}],"mark":{"type":"line","color":"black","strokeWidth":2},"encoding":{"x":{"field":"t","type":"quantitative"},"y":{"field":"a3","type":"quantitative","scale":{"domain":[-98,252],"nice":false,"zero":false},"axis":null}}},
{"data":{"name":"tr"},"mark":{"type":"line","color":"black","strokeWidth":2},"encoding":{"x":{"field":"t","type":"quantitative"},"y":{"field":"a4","type":"quantitative","scale":{"domain":[-27,323],"nice":false,"zero":false},"axis":null}}},
{"data":{"name":"lab"},"transform":[{"filter":"datum.k==='a1'"}],"mark":{"type":"text","align":"left"},"encoding":{"x":{"field":"nt","type":"quantitative"},"y":{"field":"nv","type":"quantitative","scale":{"domain":[-253,97],"nice":false,"zero":false},"axis":null},"text":{"field":"name"}}},
{"data":{"name":"lab"},"transform":[{"filter":"datum.k==='a1'"}],"mark":{"type":"text","align":"right"},"encoding":{"x":{"field":"st","type":"quantitative"},"y":{"field":"sv","type":"quantitative","scale":{"domain":[-253,97],"nice":false,"zero":false},"axis":null},"text":{"field":"ns"}}},
{"data":{"name":"lab"},"transform":[{"filter":"datum.k==='a1'"}],"mark":{"type":"text","align":"left","fontSize":24},"encoding":{"x":{"field":"pt","type":"quantitative"},"y":{"field":"pv","type":"quantitative","scale":{"domain":[-253,97],"nice":false,"zero":false},"axis":null},"text":{"field":"pl"}}},
{"data":{"name":"lab"},"transform":[{"filter":"datum.k==='a2'"}],"mark":{"type":"text","align":"left"},"encoding":{"x":{"field":"nt","type":"quantitative"},"y":{"field":"nv","type":"quantitative","scale":{"domain":[-165,185],"nice":false,"zero":false},"axis":null},"text":{"field":"name"}}},
{"data":{"name":"lab"},"transform":[{"filter":"datum.k==='a2'"}],"mark":{"type":"text","align":"right"},"encoding":{"x":{"field":"st","type":"quantitative"},"y":{"field":"sv","type":"quantitative","scale":{"domain":[-165,185],"nice":false,"zero":false},"axis":null},"text":{"field":"ns"}}},
{"data":{"name":"lab"},"transform":[{"filter":"datum.k==='a3'"}],"mark":{"type":"text","align":"left"},"encoding":{"x":{"field":"nt","type":"quantitative"},"y":{"field":"nv","type":"quantitative","scale":{"domain":[-98,252],"nice":false,"zero":false},"axis":null},"text":{"field":"name"}}},
{"data":{"name":"lab"},"transform":[{"filter":"datum.k==='a3'"}],"mark":{"type":"text","align":"right"},"encoding":{"x":{"field":"st","type":"quantitative"},"y":{"field":"sv","type":"quantitative","scale":{"domain":[-98,252],"nice":false,"zero":false},"axis":null},"text":{"field":"ns"}}},
{"data":{"name":"lab"},"transform":[{"filter":"datum.k==='a4'"}],"mark":{"type":"text","align":"left"},"encoding":{"x":{"field":"nt","type":"quantitative"},"y":{"field":"nv","type":"quantitative","scale":{"domain":[-27,323],"nice":false,"zero":false},"axis":null},"text":{"field":"name"}}},
{"data":{"name":"lab"},"transform":[{"filter":"datum.k==='a4'"}],"mark":{"type":"text","align":"right"},"encoding":{"x":{"field":"st","type":"quantitative"},"y":{"field":"sv","type":"quantitative","scale":{"domain":[-27,323],"nice":false,"zero":false},"axis":null},"text":{"field":"ns"}}}
],
"resolve":{"scale":{"y":"independent"}}
},
{
"width":488,"height":350,
"layer":[
{"data":{"name":"tr"},"mark":{"type":"line","color":"black","strokeWidth":2.2},"encoding":{"x":{"field":"t","type":"quantitative","scale":{"domain":[0.2,4.2],"nice":false,"zero":false},"axis":{"orient":"bottom","values":[1,2,3,4],"labelExpr":"datum.value<3.5?format(datum.value,'.1f'):''","labelOverlap":false,"labelFlush":false,"tickSize":5,"tickColor":"black","tickWidth":1.5,"domainColor":"black","domainWidth":2.5,"labelFont":"Liberation Sans","labelFontSize":17,"labelColor":"#1a1a1a","labelPadding":7,"title":"2τ₂/ms","titleFont":"DejaVu Serif","titleFontWeight":"bold","titleFontSize":22,"titleColor":"black","titleX":259,"titleY":54,"titleBaseline":"alphabetic","titleAlign":"center","grid":false}},"y":{"field":"b1","type":"quantitative","scale":{"domain":[-250,100],"nice":false,"zero":false},"axis":null}}},
{"data":{"name":"tr"},"transform":[{"filter":"isValid(datum.b2)"}],"mark":{"type":"line","color":"black","strokeWidth":2},"encoding":{"x":{"field":"t","type":"quantitative"},"y":{"field":"b2","type":"quantitative","scale":{"domain":[-161,189],"nice":false,"zero":false},"axis":null}}},
{"data":{"name":"tr"},"transform":[{"filter":"isValid(datum.b3)"}],"mark":{"type":"line","color":"black","strokeWidth":2},"encoding":{"x":{"field":"t","type":"quantitative"},"y":{"field":"b3","type":"quantitative","scale":{"domain":[-98,252],"nice":false,"zero":false},"axis":null}}},
{"data":{"name":"tr"},"mark":{"type":"line","color":"black","strokeWidth":2},"encoding":{"x":{"field":"t","type":"quantitative"},"y":{"field":"b4","type":"quantitative","scale":{"domain":[-25,325],"nice":false,"zero":false},"axis":null}}},
{"data":{"name":"lab"},"transform":[{"filter":"datum.k==='b1'"}],"mark":{"type":"text","align":"left"},"encoding":{"x":{"field":"nt","type":"quantitative"},"y":{"field":"nv","type":"quantitative","scale":{"domain":[-250,100],"nice":false,"zero":false},"axis":null},"text":{"field":"name"}}},
{"data":{"name":"lab"},"transform":[{"filter":"datum.k==='b1'"}],"mark":{"type":"text","align":"right"},"encoding":{"x":{"field":"st","type":"quantitative"},"y":{"field":"sv","type":"quantitative","scale":{"domain":[-250,100],"nice":false,"zero":false},"axis":null},"text":{"field":"ns"}}},
{"data":{"name":"lab"},"transform":[{"filter":"datum.k==='b1'"}],"mark":{"type":"text","align":"left","fontSize":24},"encoding":{"x":{"field":"pt","type":"quantitative"},"y":{"field":"pv","type":"quantitative","scale":{"domain":[-250,100],"nice":false,"zero":false},"axis":null},"text":{"field":"pl"}}},
{"data":{"name":"lab"},"transform":[{"filter":"datum.k==='b2'"}],"mark":{"type":"text","align":"left"},"encoding":{"x":{"field":"nt","type":"quantitative"},"y":{"field":"nv","type":"quantitative","scale":{"domain":[-161,189],"nice":false,"zero":false},"axis":null},"text":{"field":"name"}}},
{"data":{"name":"lab"},"transform":[{"filter":"datum.k==='b2'"}],"mark":{"type":"text","align":"right"},"encoding":{"x":{"field":"st","type":"quantitative"},"y":{"field":"sv","type":"quantitative","scale":{"domain":[-161,189],"nice":false,"zero":false},"axis":null},"text":{"field":"ns"}}},
{"data":{"name":"lab"},"transform":[{"filter":"datum.k==='b3'"}],"mark":{"type":"text","align":"left"},"encoding":{"x":{"field":"nt","type":"quantitative"},"y":{"field":"nv","type":"quantitative","scale":{"domain":[-98,252],"nice":false,"zero":false},"axis":null},"text":{"field":"name"}}},
{"data":{"name":"lab"},"transform":[{"filter":"datum.k==='b3'"}],"mark":{"type":"text","align":"right"},"encoding":{"x":{"field":"st","type":"quantitative"},"y":{"field":"sv","type":"quantitative","scale":{"domain":[-98,252],"nice":false,"zero":false},"axis":null},"text":{"field":"ns"}}},
{"data":{"name":"lab"},"transform":[{"filter":"datum.k==='b4'"}],"mark":{"type":"text","align":"left"},"encoding":{"x":{"field":"nt","type":"quantitative"},"y":{"field":"nv","type":"quantitative","scale":{"domain":[-25,325],"nice":false,"zero":false},"axis":null},"text":{"field":"name"}}},
{"data":{"name":"lab"},"transform":[{"filter":"datum.k==='b4'"}],"mark":{"type":"text","align":"right"},"encoding":{"x":{"field":"st","type":"quantitative"},"y":{"field":"sv","type":"quantitative","scale":{"domain":[-25,325],"nice":false,"zero":false},"axis":null},"text":{"field":"ns"}}}
],
"resolve":{"scale":{"y":"independent"}}
}
]
}
